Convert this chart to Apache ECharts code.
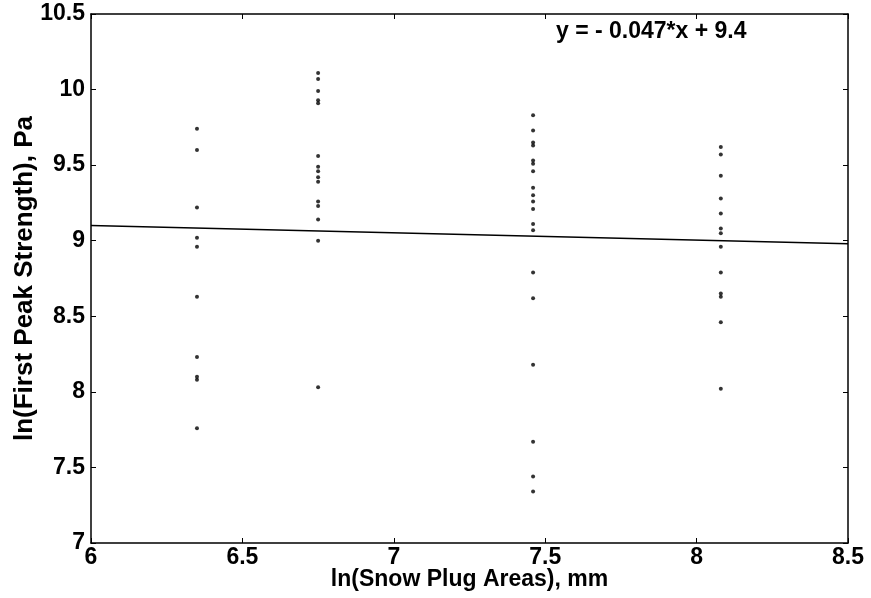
<!DOCTYPE html>
<html>
<head>
<meta charset="utf-8">
<script src="https://cdn.jsdelivr.net/npm/echarts@6/dist/echarts.min.js"></script>
<style>html,body{margin:0;padding:0;background:#fff;}#c{width:871px;height:598px;}</style>
</head>
<body>
<div id="c"></div>
<script>
// Data
const areaX = [6.35, 6.75, 7.46, 8.08];
const col1 = [9.74, 9.60, 9.22, 9.02, 8.96, 8.63, 8.23, 8.10, 8.08, 7.76];
const col2 = [10.11, 10.07, 9.99, 9.93, 9.91, 9.56, 9.49, 9.46, 9.42, 9.39, 9.26, 9.23, 9.14, 9.00, 8.03];
const col3 = [9.83, 9.73, 9.65, 9.63, 9.53, 9.51, 9.46, 9.35, 9.30, 9.26, 9.21, 9.11, 9.07, 8.79, 8.62, 8.18, 7.67, 7.44, 7.34];
const col4 = [9.62, 9.57, 9.43, 9.28, 9.18, 9.08, 9.05, 8.96, 8.79, 8.65, 8.63, 8.46, 8.02];
const fitX = [6, 8.5];
const fitY = [9.10, 8.98];
const xTicks = [6, 6.5, 7, 7.5, 8, 8.5];
const yTicks = [7, 7.5, 8, 8.5, 9, 9.5, 10, 10.5];
const equation = 'y = - 0.047*x + 9.4';

const cols = [col1, col2, col3, col4];
const pts = [];
cols.forEach((c, i) => c.forEach(v => pts.push([areaX[i], v])));

const FONT = 'Liberation Sans';
const labelStyle = {color: '#000', fontFamily: FONT, fontWeight: 'bold', fontSize: 23};
const chart = echarts.init(document.getElementById('c'));
const axisLine = {show: true, lineStyle: {color: '#000', width: 1.5}};
const tick = {show: true, inside: true, length: 5, lineStyle: {color: '#000', width: 1}};
chart.setOption({
  animation: false,
  backgroundColor: '#fff',
  grid: {left: 91, right: 23, top: 14, bottom: 55, containLabel: false, outerBoundsMode: 'none'},
  xAxis: [{
    type: 'value', min: 6, max: 8.5, interval: 0.5,
    axisLine, axisTick: tick, splitLine: {show: false},
    axisLabel: Object.assign({margin: 3, formatter: v => xTicks.includes(v) ? String(v) : ''}, labelStyle),
    name: 'ln(Snow Plug Areas), mm', nameLocation: 'middle', nameGap: 25, nameMoveOverlap: false,
    nameTextStyle: Object.assign({}, labelStyle, {fontSize: 23})
  }, {
    type: 'value', position: 'top', min: 6, max: 8.5, interval: 0.5,
    axisLine, axisTick: tick, axisLabel: {show: false}, splitLine: {show: false}
  }],
  yAxis: [{
    type: 'value', min: 7, max: 10.5, interval: 0.5,
    axisLine, axisTick: tick, splitLine: {show: false},
    axisLabel: Object.assign({margin: 6, formatter: v => yTicks.includes(v) ? String(v) : ''}, labelStyle),
    name: 'ln(First Peak Strength), Pa', nameLocation: 'middle', nameGap: 53, nameMoveOverlap: false,
    nameTextStyle: Object.assign({}, labelStyle, {fontSize: 26})
  }, {
    type: 'value', position: 'right', min: 7, max: 10.5, interval: 0.5,
    axisLine, axisTick: tick, axisLabel: {show: false}, splitLine: {show: false}
  }],
  series: [{
    type: 'scatter', data: pts, symbol: 'circle', symbolSize: 4,
    itemStyle: {color: '#000'}, silent: true
  }, {
    type: 'line', data: fitX.map((x, i) => [x, fitY[i]]), symbol: 'none',
    lineStyle: {color: '#000', width: 1.5}, silent: true
  }],
  graphic: [{
    type: 'text', left: 556, top: 20,
    style: {text: equation, fill: '#000', font: 'bold 23px "Liberation Sans"'}
  }]
});
</script>
</body>
</html>
